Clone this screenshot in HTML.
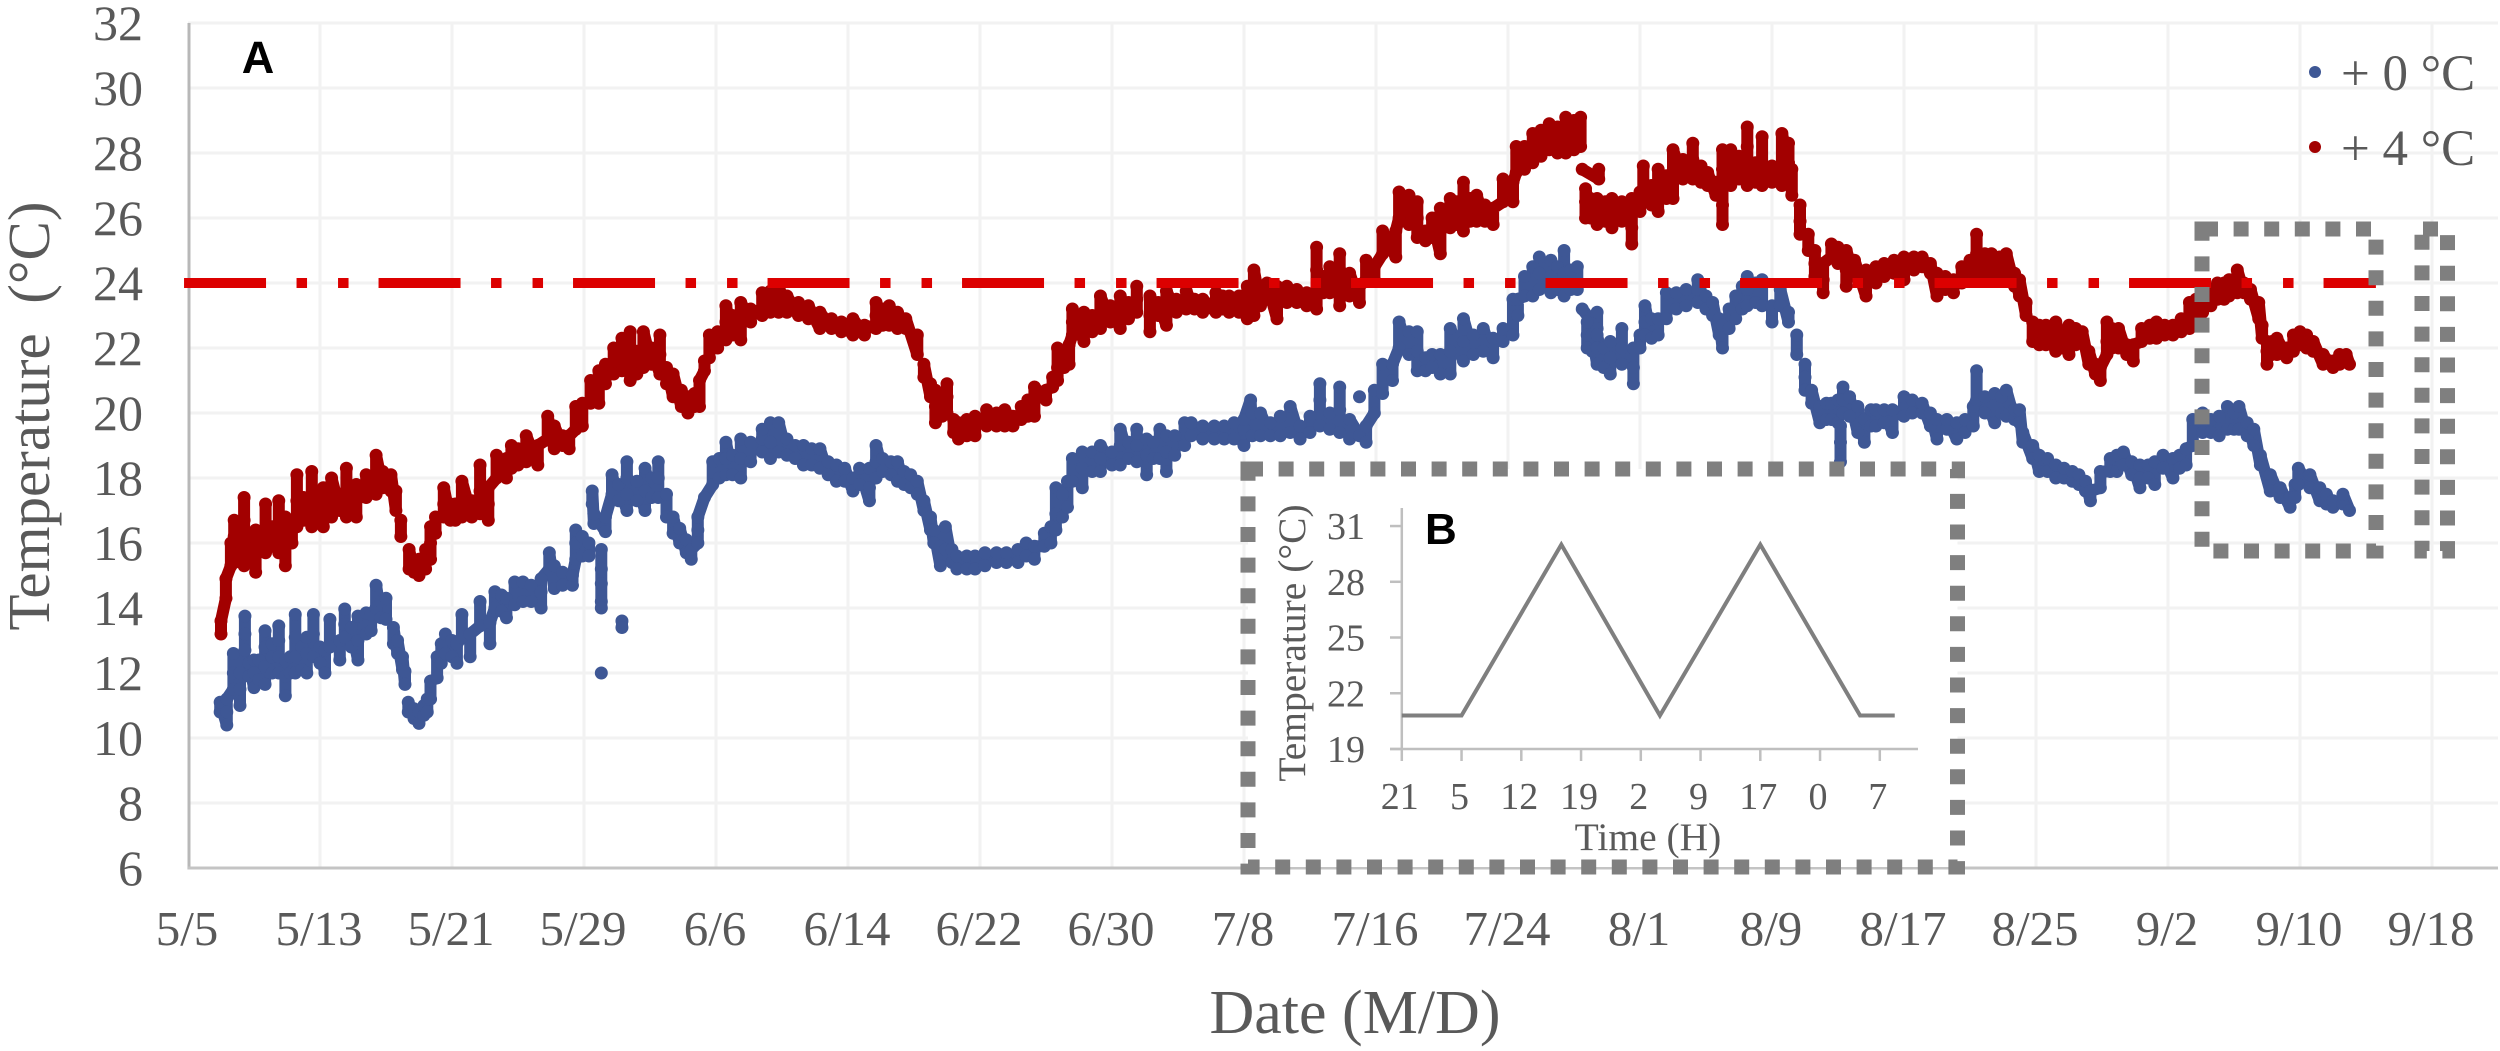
<!DOCTYPE html>
<html lang="en">
<head>
<meta charset="utf-8">
<title>Temperature chart</title>
<style>
html,body{margin:0;padding:0;background:#fff;width:2500px;height:1051px;overflow:hidden}
svg{display:block}
text{font-family:"Liberation Serif",serif;fill:#595959}
.bold{font-family:"Liberation Sans",sans-serif;font-weight:bold;fill:#000}
</style>
</head>
<body>
<svg id="chart" xmlns="http://www.w3.org/2000/svg" width="2500" height="1051" viewBox="0 0 2500 1051"></svg>
<script>
const yTickLabels=[6,8,10,12,14,16,18,20,22,24,26,28,30,32];
const xTickLabels=["5/5","5/13","5/21","5/29","6/6","6/14","6/22","6/30","7/8","7/16","7/24","8/1","8/9","8/17","8/25","9/2","9/10","9/18"];
const xTickDays=[0,8,16,24,32,40,48,56,64,72,80,88,96,104,112,120,128,136];
const thresholdTemp=[24];
const thresholdDays=[-0.24,132.6];

const warmDays=[
2,2,2.3,2.3,2.6,2.6,2.8,2.8,2.8,3.4,3.4,3.4,3.4,3.8,3.8,4.1,4.1,4.1,4.7,4.7,4.7,5.1,5.1,5.5,5.5,5.5,5.9,5.9,5.9,
6.3,6.3,6.6,6.6,6.6,7,7,7.5,7.5,7.5,7.9,7.9,8.2,8.2,8.2,8.7,8.7,8.7,9.2,9.2,9.6,9.6,9.6,
10.2,10.2,10.2,10.8,10.8,11.4,11.4,11.4,11.8,11.8,12.3,12.3,12.6,12.6,12.9,12.9,13.4,13.4,13.7,13.7,14,14,14.4,14.4,
14.7,14.7,14.7,15,15,15.5,15.5,15.5,15.9,15.9,16.2,16.2,16.6,16.6,16.6,17.2,17.2,17.7,17.7,17.7,18.2,18.2,18.2,
18.7,18.7,19.3,19.3,19.6,19.6,20,20,20.5,20.5,21.2,21.2,21.8,21.8,22.2,22.2,22.7,22.7,23.1,23.1,23.5,23.5,23.9,23.9,
24.4,24.4,24.9,24.9,24.9,25.3,25.3,25.8,25.8,25.8,26.3,26.3,26.3,26.8,26.8,26.8,27.2,27.2,27.6,27.6,27.6,28.1,28.1,28.6,28.6,28.6,
29,29,29.4,29.4,29.9,29.9,30.3,30.3,30.7,30.7,31,31,31.3,31.3,31.6,31.6,32.1,32.1,32.6,32.6,32.6,33,33,33.5,33.5,33.5,34.1,34.1,
34.8,34.8,35.3,35.3,35.8,35.8,36.3,36.3,37,37,37.6,37.6,38.3,38.3,39,39,39.6,39.6,40.3,40.3,41,41,41.7,41.7,41.7,42.1,42.1,42.5,42.5,43,43,43.5,43.5,
44.2,44.2,44.6,44.6,45,45,45.3,45.3,45.3,45.7,45.7,46,46,46,46.4,46.4,46.7,46.7,47.2,47.2,47.7,47.7,48.4,48.4,49,49,49.5,49.5,50,50,50.5,50.5,50.9,50.9,
51.3,51.3,51.3,52,52,52.4,52.4,52.7,52.7,52.7,53.1,53.1,53.4,53.4,53.6,53.6,53.6,54.3,54.3,54.3,54.8,54.8,55.3,55.3,55.3,55.9,55.9,56.5,56.5,56.5,57,57,
57.5,57.5,57.5,58.3,58.3,58.3,58.8,58.8,59.3,59.3,59.3,59.9,59.9,60.5,60.5,61,61,61.5,61.5,62.3,62.3,62.7,62.7,63.1,63.1,63.7,63.7,64.2,64.2,64.2,
64.6,64.6,64.6,65,65,65.4,65.4,66,66,66,66.6,66.6,67.2,67.2,67.8,67.8,68.4,68.4,68.4,68.4,68.8,68.8,69.2,69.2,69.8,69.8,69.8,69.8,70.4,70.4,71,71,
71.4,71.4,71.9,71.9,72.4,72.4,73.2,73.2,73.4,73.4,74,74,74,74.5,74.5,74.5,75,75,75.4,75.4,75.9,75.9,75.9,76.5,76.5,76.5,76.9,76.9,77.3,77.3,77.3,
77.7,77.7,78.1,78.1,78.1,78.6,78.6,79.1,79.1,79.7,79.7,80.3,80.3,80.5,80.5,81,81,81.5,81.5,82,82,82.5,82.5,83,83,83.5,83.5,83.5,84,84,84.4,84.4,
84.5,85.5,85.5,84.7,84.7,84.7,85,85,85.4,85.4,85.4,85.9,85.9,86.3,86.3,86.3,86.9,86.9,87.5,87.5,87.5,87.5,88,88,88.2,88.2,88.7,88.7,89.1,89.1,89.1,
89.6,89.6,90,90,90,90.6,90.6,91.2,91.2,91.2,91.7,91.7,92.1,92.1,92.6,92.6,93,93,93,93,93,93.5,93.5,93.5,94,94,94.5,94.5,94.5,94.5,95,95,95.4,95.4,95.4,
96,96,96.6,96.6,96.6,97,97,97.2,97.2,97.7,97.7,97.7,98.2,98.2,98.6,98.6,98.6,99.1,99.1,99.1,99.6,99.6,100,100,100.5,100.5,100.5,101,101,101.7,101.7,101.7,
102.3,102.3,102.8,102.8,103.4,103.4,104,104,104.6,104.6,105.1,105.1,105.6,105.6,106,106,106.5,106.5,107,107,107.5,107.5,108,108,108.4,108.4,108.4,108.9,108.9,
109.3,109.3,109.8,109.8,110.2,110.2,110.2,110.7,110.7,111,111,111.4,111.4,111.8,111.8,112.2,112.2,112.6,112.6,113.2,113.2,113.2,113.6,113.6,114,114,114,114.4,114.4,
114.8,114.8,115.2,115.2,115.6,115.6,115.9,115.9,116.3,116.3,116.3,116.6,116.6,117,117,117,117.5,117.5,117.9,117.9,118.4,118.4,118.9,118.9,119.3,119.3,119.8,119.8,
120.3,120.3,120.8,120.8,121.3,121.3,121.3,121.7,121.7,122.1,122.1,122.6,122.6,123,123,123.4,123.4,123.7,123.7,124.2,124.2,124.6,124.6,125,125,125.5,125.5,125.7,125.7,
126,126,126,126.3,126.3,126.6,126.6,127.2,127.2,127.6,127.6,128,128,128.4,128.4,128.8,128.8,129.4,129.4,130,130,130.4,130.4,130.8,130.8,131
];
const warmTemps=[
13.2,13.6,14.3,14.9,15.3,16,15.4,16.2,16.7,15.3,16,16.7,17.4,15.5,16.3,15.1,15.8,16.4,15.7,16.4,17.2,15.9,16.5,15.7,16.5,17.3,15.3,16,16.8,
16,16.6,16.5,17.3,18.1,16.7,17.4,16.5,17.3,18.2,16.8,17.2,16.5,17.1,17.7,16.8,17.4,18,17,17.5,16.8,17.6,18.3,
16.8,17.3,17.8,17.4,18.1,17.5,18.1,18.7,17.7,18.2,17.6,18.1,17,17.6,16.2,16.7,15.2,15.8,15.1,15.4,15,15.5,15.2,15.8,
15.5,16,16.5,16.3,16.8,16.8,17.2,17.7,16.7,17.2,16.7,17.2,16.8,17.3,17.9,16.8,17.3,16.9,17.6,18.4,16.7,17.2,17.7,
18,18.7,18,18.6,18.3,19,18.4,18.9,18.5,19.3,18.4,19,19.2,19.9,18.9,19.6,19,19.3,18.9,19.3,19.5,20.2,19.6,20.3,
20.3,21,20.3,20.8,21.3,20.9,21.5,21.2,21.6,22,21.3,21.9,22.3,21,21.7,22.5,21.2,21.9,21.4,22,22.5,21.5,22,21.2,21.8,22.4,
20.9,21.4,20.5,21.2,20.2,20.7,20,20.5,20.2,20.6,20.2,21,21.3,21.6,21.7,22.4,22,22.5,22.25,22.8,23.3,22.4,23,22.25,22.8,23.4,22.8,23.2,
23,23.7,23.1,23.75,23.1,23.9,23.1,23.6,23,23.4,22.9,23.3,22.6,23.1,22.6,22.9,22.5,22.8,22.4,22.9,22.4,22.7,22.6,23,23.4,22.7,23.2,22.7,23.3,22.6,23.1,22.6,22.9,
21.8,22.4,21.1,21.5,20.5,20.9,19.7,20.2,20.7,19.9,20.4,20,20.5,20.9,19.4,19.8,19.2,19.7,19.3,19.8,19.3,19.9,19.6,20.1,19.6,20,19.6,20.1,19.6,19.9,19.8,20.2,19.9,20.4,
19.9,20.4,20.8,20.4,20.7,20.8,21.1,21,21.4,22,21.4,21.9,21.5,22.1,22.4,22.8,23.2,22.2,22.7,23.1,22.5,23,22.6,23.1,23.6,22.8,23.3,22.6,23.1,23.6,22.9,23.4,
23.1,23.5,23.9,22.5,23,23.6,23,23.4,22.7,23.2,23.75,23.1,23.5,23.2,23.75,23.2,23.5,23.1,23.5,23.1,23.7,23.2,23.6,23.1,23.6,23.1,23.6,22.9,23.4,23.9,
23,23.6,24.4,23.3,23.8,23.5,24,22.9,23.4,23.9,23.4,23.9,23.4,23.8,23.3,23.7,23.2,23.8,24.4,25.1,23.7,24.2,23.7,24.5,23.3,23.9,24.4,24.9,23.6,24.3,23.4,23.9,
24.1,24.7,24.1,24.5,24.9,25.6,24.8,25.6,26,26.8,25.8,26.2,26.7,25.4,26,26.5,25.3,25.6,25.4,26,24.9,25.6,26.3,25.7,26.2,26.6,25.8,26.5,25.6,26.3,27.1,
25.9,26.6,25.9,26.3,26.7,25.9,26.4,25.8,26.3,26.5,27.2,26.5,27.1,27.4,28.2,27.5,28.2,27.7,28.6,27.9,28.7,28.1,28.9,28,28.8,28,28.6,29.1,28.1,29,28.2,29.1,
27.5,27.2,27.5,26,26.5,26.9,26,26.6,25.8,26.2,26.6,25.9,26.5,25.7,26.1,26.6,25.9,26.5,25.2,25.7,26.1,26.6,26.2,26.8,26.8,27.6,26.4,27,26.2,26.9,27.5,
26.6,27.3,26.6,27.3,28.1,27.2,27.8,27.2,27.8,28.3,27.1,27.6,27,27.4,26.7,27.1,25.8,26.4,27,27.5,28.1,27,27.6,28.1,27.2,27.9,27,27.6,28.2,28.8,27.1,27.7,27,27.7,28.5,
27.1,27.6,27,27.6,28.6,27.7,28.3,26.7,27.5,25.5,25.9,26.4,25,25.5,24.2,24.6,25,23.7,24.1,24.6,24.8,25.2,24.6,25.1,23.9,24.4,25,24.2,24.7,23.6,24,24.4,
24,24.5,24.2,24.6,24.3,24.7,24.1,24.8,24.4,24.8,24.5,24.8,24.3,24.6,23.6,24.3,23.8,24.2,23.7,24.1,24,24.5,24.2,24.7,24.3,24.9,25.5,24.3,24.9,
24.2,24.9,24.3,24.8,24.1,24.5,24.9,23.9,24.3,23.6,24.1,23,23.4,22.2,22.8,22.1,22.7,22.1,22.7,21.9,22.3,22.8,22,22.5,21.8,22.2,22.7,22.1,22.6,
22.3,22.5,21.5,21.9,21.2,21.5,21,21.4,21.8,22.2,22.8,22,22.6,22,22.3,22.6,21.8,22.1,21.6,22.1,22.2,22.6,22.3,22.7,22.3,22.8,22.4,22.7,
22.4,22.7,22.5,22.9,22.6,23,23.4,23,23.5,23.1,23.6,23.3,23.8,23.5,24,23.5,24,23.6,24.1,23.7,24.4,23.7,24,23.5,23.8,22.9,23.4,22.3,22.7,
21.5,21.9,22.2,21.8,22.2,21.8,22.3,21.7,22,21.9,22.4,22.1,22.5,22,22.4,21.9,22.2,21.5,21.8,21.4,21.6,21.5,21.8,21.6,21.8,21.5
];

const baseDays=[
1.95,1.95,2.35,2.35,2.35,2.75,2.75,2.75,3.15,3.15,3.15,3.45,3.45,3.45,3.7,3.7,4,4,4,4.3,4.3,4.67,4.67,4.67,4.67,5.1,5.1,5.1,5.5,5.5,5.5,5.5,5.9,5.9,5.9,
6.2,6.2,6.5,6.5,6.5,6.5,6.9,6.9,7.2,7.2,7.2,7.6,7.6,7.6,8,8,8.3,8.3,8.6,8.6,9.2,9.2,9.5,9.5,9.5,9.9,9.9,10.3,10.3,10.3,10.8,10.8,11.1,11.1,11.4,11.4,
11.7,11.7,12,12,12.45,12.45,12.7,12.7,13,13,13.15,13.15,13.35,13.35,13.7,13.7,14,14,14.3,14.3,14.5,14.5,14.7,14.7,15.1,15.1,15.35,15.35,15.6,15.6,16,16,
16.3,16.3,16.6,16.6,17.1,17.1,17.7,17.7,18.3,18.3,18.6,18.6,19,19,19.3,19.3,19.8,19.8,20.3,20.3,20.8,20.8,21.4,21.4,21.4,21.9,21.9,22.2,22.2,22.7,22.7,23.3,23.3,
23.5,23.5,23.5,23.9,23.9,24.3,24.3,24.5,24.5,24.6,24.6,25.3,25.3,25.7,25.7,26.1,26.1,26.6,26.6,26.6,26.6,27.2,27.2,27.7,27.7,27.7,28.1,28.1,28.5,28.5,28.5,
29,29,29.4,29.4,29.8,29.8,30.2,30.2,30.5,30.5,30.9,30.9,30.9,31.3,31.8,31.8,32.2,32.2,32.6,32.6,32.6,33,33,33.5,33.5,33.5,34.1,34.1,34.8,34.8,34.8,35.3,35.3,35.3,
35.8,35.8,36.3,36.3,36.8,36.8,37.3,37.3,37.8,37.8,38.3,38.3,38.8,38.8,39.3,39.3,39.8,39.8,40.3,40.3,40.7,40.7,41.3,41.3,41.3,41.7,41.7,41.7,42.1,42.1,42.6,42.6,
43,43,43.4,43.4,43.8,43.8,44.2,44.2,44.6,44.6,45,45,45.2,45.2,45.6,45.6,45.9,45.9,46.3,46.3,46.6,46.6,47.2,47.2,47.7,47.7,48.3,48.3,49,49,49.6,49.6,50.3,50.3,
50.8,50.8,51.3,51.3,51.9,51.9,52.3,52.3,52.6,52.6,52.6,53,53,53.3,53.3,53.6,53.6,54.2,54.2,54.2,54.8,54.8,55.3,55.3,55.3,56,56,56.5,56.5,56.5,57,57,57.5,57.5,57.5,
58.1,58.1,58.1,58.5,58.5,58.9,58.9,59.3,59.3,59.3,59.8,59.8,60.4,60.4,60.8,60.8,61.5,61.5,62.2,62.2,62.8,62.8,63.4,63.4,64,64,64,64.4,64.5,64.5,65,65,65.6,65.6,
66.2,66.2,66.8,66.8,67.4,67.4,68,68,68.6,68.6,68.6,69.2,69.2,69.8,69.8,69.8,70.4,70.4,71,71,71.4,71.4,71.9,71.9,72.4,72.4,73,73,73.4,73.4,74,74,74.5,74.5,74.5,
75,75,75.4,75.4,75.9,75.9,76.5,76.5,76.5,77.3,77.3,77.3,77.9,77.9,78.5,78.5,79.1,79.1,79.7,79.7,80.3,80.3,80.6,80.6,81,81,81.5,81.5,81.9,81.9,81.9,82.6,82.6,82.6,
83,83,83.4,83.4,83.4,83.8,83.8,84.2,84.2,84.5,85.4,85.4,84.8,84.8,84.8,85.1,85.1,85.4,85.4,85.4,85.8,85.8,86.2,86.2,86.2,86.9,86.9,86.9,87.6,87.6,87.6,88,88,88.3,88.3,88.3,
88.7,88.7,89.1,89.1,89.6,89.6,90.2,90.2,90.8,90.8,91.5,91.5,91.5,92,92,92.4,92.4,92.8,92.8,93,93,93.4,93.4,93.8,93.8,94.2,94.2,94.5,94.5,94.5,95,95,95.4,95.4,96,96,
96.5,96.5,97,97,97.5,97.5,98,98,98,98.4,98.4,98.9,98.9,99.3,99.3,99.6,99.6,100,100,100.3,100.3,100.3,100.15,100.15,100.15,100.7,100.7,101.2,101.2,101.6,101.6,102,102,
102.3,102.3,102.8,102.8,103.3,103.3,104,104,104.5,104.5,105.1,105.1,105.6,105.6,106,106,106.6,106.6,107.2,107.2,107.7,107.7,108.2,108.2,108.4,108.4,108.9,108.9,109.5,109.5,
109.9,109.9,110.2,110.2,110.7,110.7,111,111,111.2,111.2,111.8,111.8,112.2,112.2,112.7,112.7,113.2,113.2,113.7,113.7,114.2,114.2,114.6,114.6,115,115,115.3,115.3,115.9,115.9,
116.5,116.5,116.9,116.9,117.3,117.3,117.8,117.8,118.3,118.3,118.3,118.8,118.8,119.2,119.2,119.7,119.7,120.3,120.3,120.7,120.7,121.1,121.1,121.5,121.5,122.1,122.1,122.6,122.6,
123.1,123.1,123.6,123.6,124,124,124.3,124.3,124.8,124.8,125.2,125.2,125.6,125.6,126.2,126.2,126.8,126.8,127.4,127.4,127.7,127.7,127.9,127.9,128.6,128.6,129.2,129.2,129.6,129.6,130,130,130.6,130.6,131,
25.05,25.05,25.05,25.05,25.05,25.05,26.3,26.3
];
const baseTemps=[
10.8,11.1,10.4,10.8,11.2,11.5,12,12.6,11,11.5,12,12.7,13.2,13.75,11.9,12.3,11.55,12,12.4,11.8,12.4,11.65,12.2,12.8,13.3,12,12.5,12.9,12,12.5,13,13.45,11.3,11.9,12.4,
12,12.5,12,12.5,13.1,13.8,12.1,12.8,12,12.6,13.1,12.5,13.2,13.8,12.3,12.8,12,12.7,12.8,13.65,12.4,13,13.1,13.5,13.97,12.8,13.4,12.4,13,13.75,13.2,13.85,13.3,13.8,14,14.7,
13.7,14.2,13.65,14.3,12.9,13.4,12.6,13,12.1,12.5,11.65,12.05,10.8,11.1,10.6,10.9,10.45,10.8,10.7,11,10.8,11.2,11.2,11.75,11.85,12.5,12.3,12.9,12.6,13.2,12.5,13,
12.3,12.9,13.1,13.8,12.5,13.2,13.45,14.2,12.9,13.55,14,14.5,13.9,14.4,13.7,14.3,14.1,14.8,14.2,14.8,14.2,14.7,14,14.5,14.9,15.2,15.7,14.6,15.3,14.7,15.1,14.7,15,
15.5,16,16.4,15.6,16.2,15.6,16,17.2,17.6,16.6,16.9,16.35,16.8,17.5,18.1,17.3,17.8,17,17.5,18,18.5,17.3,17.9,17,17.6,18.3,17.4,18,17.4,18,18.5,
16.8,17.5,16.3,16.8,16,16.45,15.7,16.1,15.5,15.8,16,16.4,16.8,17.4,17.8,18.5,18,18.6,18.1,18.6,19.1,18.1,18.7,18,18.6,19.2,18.5,19.1,18.8,19.2,19.5,18.6,19.1,19.7,
18.8,19.7,18.7,19.2,18.6,19,18.4,19,18.4,18.9,18.3,18.9,18.1,18.5,17.9,18.4,17.9,18.3,17.6,18,17.8,18.3,17.3,17.7,18.3,18,18.5,19,18.2,18.6,18.1,18.5,
17.9,18.5,17.8,18.2,17.7,18.1,17.5,17.9,17,17.3,16.4,16.8,16,16.4,15.3,15.9,15.8,16.5,15.4,15.8,15.2,15.6,15.2,15.6,15.2,15.6,15.3,15.7,15.4,15.7,15.4,15.7,15.4,15.8,
15.6,16,15.5,15.9,15.9,16.3,16,16.5,16.4,16.9,17.7,16.8,17.5,17.1,17.9,17.9,18.6,17.7,18.3,18.8,18.2,18.8,18.2,18.6,19,18.4,18.8,18.4,19,19.5,18.6,19.1,18.5,19,19.5,
18.1,18.7,19.2,18.6,19.1,18.6,19.5,18.2,18.8,19.3,18.7,19.3,19,19.7,19.3,19.7,19.2,19.6,19.2,19.6,19.2,19.6,19.2,19.7,19,19.5,19.8,20.4,19.3,20,19.3,20,19.3,19.7,
19.3,19.9,19.4,20.2,19.2,19.6,19.4,19.9,19.6,20.4,20.9,19.5,20,19.4,20.1,20.8,19.2,19.8,19.3,20.5,19.1,19.6,20,20.7,20.6,21.5,21,21.5,22,22.8,21.8,22.5,21.3,21.9,22.5,
21.3,21.7,21.4,21.8,21.2,21.8,21.2,21.9,22.6,21.6,22.2,22.9,21.8,22.4,21.9,22.6,21.7,22.3,22.2,22.6,22.4,23.5,23,23.5,23.6,24.2,23.6,24.5,23.8,24.3,24.8,23.7,24.2,24.7,
23.8,24.5,23.6,24.3,25,23.8,24.4,23.8,24.5,23.2,22.6,23.1,22,22.4,22.8,21.9,22.4,21.5,22,22.4,21.4,22,21.2,21.7,22.2,21.5,22,22.6,20.9,21.4,22,22,22.4,22.4,22.8,23.3,
22.3,22.9,22.4,22.9,22.9,23.7,23.2,23.7,23.3,23.8,23.4,23.8,24.1,23.2,23.6,23,23.4,22.4,22.9,22,22.7,22.6,23.2,22.9,23.6,23.2,23.9,23.3,23.8,24.2,23.4,24,23.3,24.1,22.8,23.3,
23.3,23.8,22.8,23.1,21.8,22.4,20.7,21.1,21.5,20.3,20.7,19.7,20.2,19.8,20.3,19.8,20.3,19.7,20.4,20,20.4,20.8,19.6,19.1,18.5,19.9,20.5,19.4,20.2,19.1,19.8,19.6,20.1,
19.6,20.1,19.7,20.1,19.4,20.1,19.9,20.5,20,20.4,20,20.3,19.6,20,19.2,19.8,19.5,19.8,19.2,19.7,19.4,19.8,19.6,20.2,20.4,21.3,20,20.5,19.7,20.6,
20,20.5,19.9,20.7,19.8,20.1,19.7,20.1,19.1,19.4,18.6,19,18.2,18.7,18.2,18.6,18,18.4,18,18.3,17.9,18.2,17.8,18.1,17.6,17.9,17.3,17.6,17.7,18.2,
18.2,18.6,18.2,18.7,18.4,18.8,18.1,18.5,17.7,18,18.4,18,18.4,17.8,18.5,18.3,18.7,18,18.6,18.3,18.7,18.4,18.9,19,19.8,19.4,20,19.4,19.8,
19.3,19.9,19.5,20.2,19.5,20,19.5,20.2,19.3,19.7,19,19.5,18.4,18.7,17.6,18.1,17.4,17.7,17.1,17.4,17.4,17.8,17.8,18.3,17.7,18.1,17.3,17.7,17.2,17.5,17.1,17.3,17.2,17.5,17,
15.8,15.2,14.75,14.2,14,12,13.6,13.4
];

const insetTickLabels=["21","5","12","19","2","9","17","0","7"];
const insetYLabels=[19,22,25,28,31];
const insetLineTickPos=[0,1,2.67,4.32,6,7.67,8.25];
const insetLineTemps=[20.8,20.8,30,20.8,30,20.8,20.8];

const NS="http://www.w3.org/2000/svg";
const svg=document.getElementById("chart");
function xDay(d){return 188+d*16.5;}
function yTemp(t){return 868-(t-6)*32.5;}
function insetX(i){return 1401.8+i*59.75;}
function insetY(t){return 749-(t-19)*18.58;}
function make(tag,attrs,parent){
  const el=document.createElementNS(NS,tag);
  for(const k in attrs){el.setAttribute(k,attrs[k]);}
  (parent||svg).appendChild(el);
  return el;
}
function group(){return make("g",{});}
/* dense band: joins neighbouring readings so the overlapping logger dots read as one thick trace */
function bandPath(days,temps){
  let d="";
  temps.forEach(function(t,i){
    const near=i>0&&Math.abs(days[i]-days[i-1])<1.5&&Math.abs(t-temps[i-1])<1.15;
    d+=(near?"L":"M")+xDay(days[i]).toFixed(1)+" "+yTemp(t).toFixed(1);
  });
  return d;
}

const gridGroup=group();


yTickLabels.forEach(function(v){
  if(v===6)return;
  const l=make("line",{x1:188,x2:2498,y1:yTemp(v),y2:yTemp(v),stroke:"#f2f2f2","stroke-width":3},gridGroup);
  
  
});
xTickDays.forEach(function(d){
  if(d===0)return;
  const l=make("line",{x1:xDay(d),x2:xDay(d),y1:yTemp(32),y2:yTemp(6),stroke:"#f2f2f2","stroke-width":3},gridGroup);
  
  
});

const yAxis=make("line",{x1:189,x2:189,y1:yTemp(32),y2:yTemp(6)+1.5,stroke:"#b8b8b8","stroke-width":3});


const xAxis=make("line",{x1:188,x2:2498,y1:yTemp(6),y2:yTemp(6),stroke:"#c4c4c4","stroke-width":3});



yTickLabels.forEach(function(v){
  const t=make("text",{x:143,y:yTemp(v)+17,"text-anchor":"end","font-size":50});
  t.textContent=v;
  
  
});
xTickLabels.forEach(function(lab,i){
  const t=make("text",{x:xDay(xTickDays[i])-1,y:945,"text-anchor":"middle","font-size":49});
  t.textContent=lab;
  
  
});

const yTitle=make("text",{transform:"translate(49,416) rotate(-90)","text-anchor":"middle","font-size":59,"xml:space":"preserve"});
yTitle.textContent="Temperature\u00a0\u00a0(°C)";


const xTitle=make("text",{x:1355,y:1033,"text-anchor":"middle","font-size":62});
xTitle.textContent="Date (M/D)";



const baseGroup=group();


const baseBand=make("path",{d:bandPath(baseDays,baseTemps),fill:"none",stroke:"#3e5795","stroke-width":12,"stroke-linecap":"round","stroke-linejoin":"round"},baseGroup);


baseTemps.forEach(function(t,i){
  const c=make("circle",{cx:xDay(baseDays[i]),cy:yTemp(t),r:6.5,fill:"#3e5795"},baseGroup);
  
  
});
const warmGroup=group();


const warmBand=make("path",{d:bandPath(warmDays,warmTemps),fill:"none",stroke:"#a20000","stroke-width":12,"stroke-linecap":"round","stroke-linejoin":"round"},warmGroup);


warmTemps.forEach(function(t,i){
  const c=make("circle",{cx:xDay(warmDays[i]),cy:yTemp(t),r:6.5,fill:"#a20000"},warmGroup);
  
  
});

const threshold=make("line",{x1:xDay(thresholdDays[0]),x2:xDay(thresholdDays[1]),y1:yTemp(thresholdTemp[0]),y2:yTemp(thresholdTemp[0]),stroke:"#dc0000","stroke-width":10,"stroke-dasharray":"82 30.5 10.5 31 10.5 30"});



const labelA=make("text",{x:258,y:73,"text-anchor":"middle","font-size":45,"class":"bold"});
labelA.textContent="A";



const legend1=make("circle",{cx:2315,cy:72,r:6,fill:"#3e5795"});


const legendText1=make("text",{x:2341,y:90,"font-size":51});
legendText1.textContent="+ 0 °C";


const legend2=make("circle",{cx:2315,cy:147,r:6,fill:"#a20000"});


const legendText2=make("text",{x:2341,y:165,"font-size":51});
legendText2.textContent="+ 4 °C";



const DASH="15 15.6";
const boxSep=make("path",{d:"M2203 229H2376V551H2202V229H2203",fill:"none",stroke:"#7f7f7f","stroke-width":15,"stroke-dasharray":DASH});


const boxFuture=make("path",{d:"M2423 229H2447.5V551H2422V229H2423",fill:"none",stroke:"#7f7f7f","stroke-width":15,"stroke-dasharray":DASH});



const insetBox=make("rect",{x:1248,y:469,width:709.5,height:398,fill:"#fff",stroke:"#7f7f7f","stroke-width":15,"stroke-dasharray":DASH});



const insetYAxis=make("line",{x1:insetX(0),x2:insetX(0),y1:508,y2:insetY(19),stroke:"#bfbfbf","stroke-width":2.5});


const insetXAxis=make("line",{x1:1390,x2:1918,y1:insetY(19),y2:insetY(19),stroke:"#bfbfbf","stroke-width":2.5});


insetYLabels.forEach(function(v){
  const m=make("line",{x1:1390,x2:insetX(0),y1:insetY(v),y2:insetY(v),stroke:"#bfbfbf","stroke-width":2.5});
  
  
  const t=make("text",{x:1365,y:insetY(v)+13,"text-anchor":"end","font-size":38});
  t.textContent=v;
  
  
});
insetTickLabels.forEach(function(lab,i){
  const m=make("line",{x1:insetX(i),x2:insetX(i),y1:insetY(19),y2:761,stroke:"#bfbfbf","stroke-width":2.5});
  
  
  const t=make("text",{x:insetX(i)-2,y:809,"text-anchor":"middle","font-size":38});
  t.textContent=lab;
  
  
});
const insetLine=make("polyline",{points:insetLineTemps.map(function(t,i){return insetX(insetLineTickPos[i])+","+insetY(t);}).join(" "),fill:"none",stroke:"#7f7f7f","stroke-width":4});


const insetYTitle=make("text",{transform:"translate(1305,643) rotate(-90)","text-anchor":"middle","font-size":39.5});
insetYTitle.textContent="Temperature (°C)";


const insetXTitle=make("text",{x:1648,y:850,"text-anchor":"middle","font-size":39.5});
insetXTitle.textContent="Time (H)";


const labelB=make("text",{x:1425,y:544,"font-size":44,"class":"bold"});
labelB.textContent="B";


</script>
</body>
</html>
